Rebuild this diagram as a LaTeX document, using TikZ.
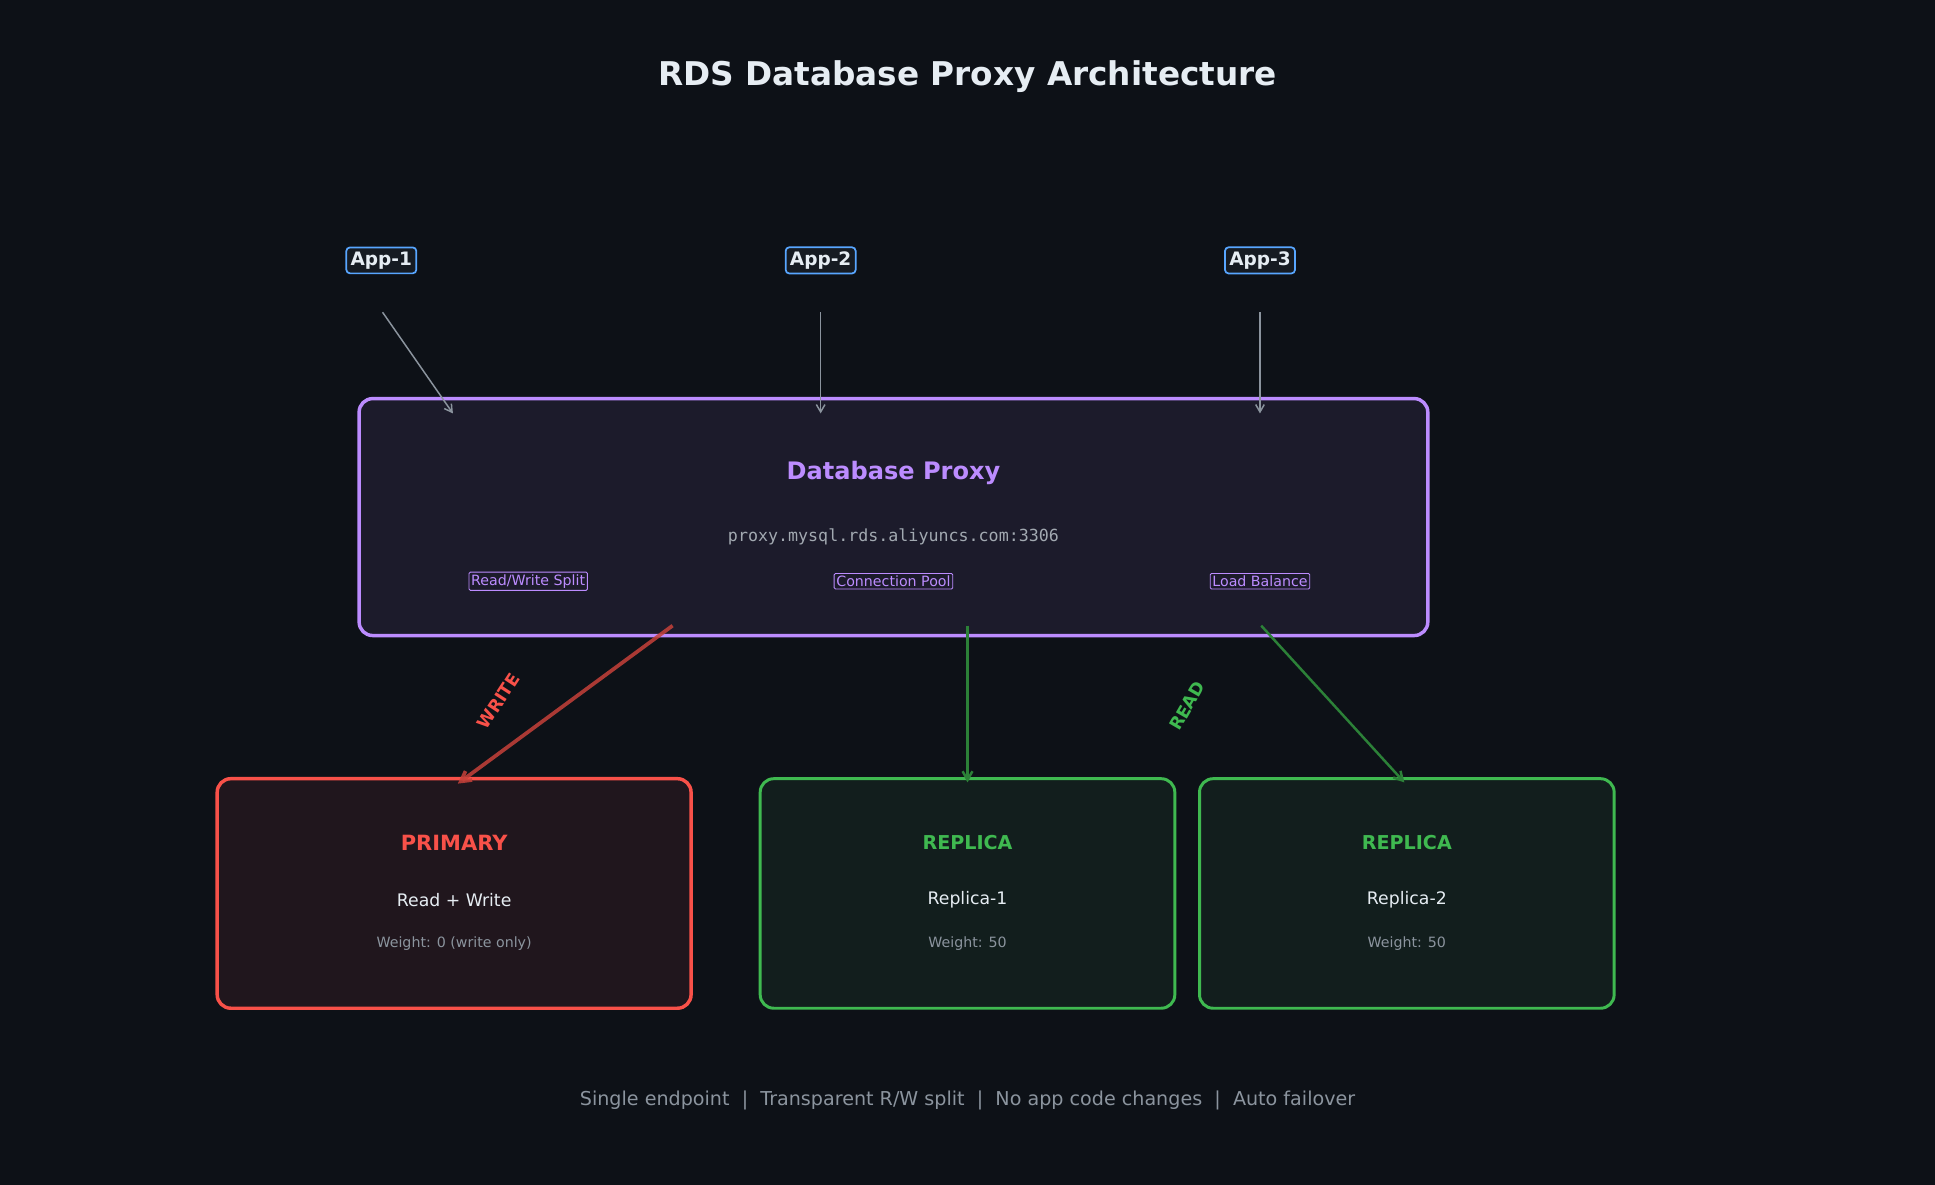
\documentclass[tikz,border=0pt]{standalone}
\usepackage{fontspec}
\setmainfont{DejaVu Sans}
\setmonofont{DejaVu Sans Mono}
\usetikzlibrary{arrows.meta}
\definecolor{bg}{HTML}{0D1117}
\definecolor{purp}{HTML}{BC8CFF}
\definecolor{pfill}{HTML}{1C1B2B}
\definecolor{red}{HTML}{F85149}
\definecolor{rfill}{HTML}{20161D}
\definecolor{grn}{HTML}{3FB950}
\definecolor{gfill}{HTML}{121E1D}
\definecolor{blu}{HTML}{58A6FF}
\definecolor{bfill}{HTML}{161B22}
\definecolor{gry}{HTML}{8B949E}
\definecolor{txt}{HTML}{E6EDF3}
\begin{document}
\begin{tikzpicture}[x=1pt,y=-1pt,
  app/.style={draw=blu,fill=bfill,rounded corners=3pt,line width=1.4pt,text=txt,font=\bfseries\fontsize{15}{18}\selectfont,inner sep=3.5pt},
  tag/.style={draw=purp,fill=pfill,line width=0.7pt,text=purp,font=\fontsize{11.5}{13}\selectfont,inner sep=1.8pt,rounded corners=1pt},
  box/.style={rounded corners=11pt,line width=2.8pt},
  garrow/.style={draw=gry,line width=1.2pt,-{Straight Barb[length=6pt,width=7pt]}},
  t/.style={text=txt,font=\fontsize{14}{17}\selectfont},
  s/.style={text=gry,font=\fontsize{11.5}{14}\selectfont}]
\fill[bg] (0,0) rectangle (1568,960);
\useasboundingbox (0,0) rectangle (1568,960);
\node[text=txt,font=\bfseries\fontsize{26.5}{30}\selectfont] (title) at (784,62) {RDS Database Proxy Architecture};
\node[app] (a1) at (309,211) {App-1};
\node[app] (a2) at (665,211) {App-2};
\node[app] (a3) at (1021,211) {App-3};
\draw[box,draw=purp,fill=pfill] (291,323) rectangle (1157,515);
\node[text=purp,font=\bfseries\fontsize{19.5}{23}\selectfont] (pt) at (724,383) {Database Proxy};
\node[text=gry!80!white,font=\ttfamily\fontsize{13.5}{16}\selectfont] (url) at (724,435) {proxy.mysql.rds.aliyuncs.com:3306};
\node[tag] (t1) at (428,471) {Read/Write Split};
\node[tag] (t2) at (724,471) {Connection Pool};
\node[tag] (t3) at (1021,471) {Load Balance};
\draw[box,draw=red,fill=rfill] (176,631) rectangle (560,817);
\draw[box,draw=grn,fill=gfill,line width=2.4pt] (616,631) rectangle (952,817);
\draw[box,draw=grn,fill=gfill,line width=2.4pt] (972,631) rectangle (1308,817);
\node[text=red,font=\bfseries\fontsize{17}{20}\selectfont] (p1) at (368,683) {PRIMARY};
\node[t] (p2) at (368,729) {Read + Write};
\node[s] (p3) at (368,765) {Weight: 0 (write only)};
\node[text=grn,font=\bfseries\fontsize{15.5}{18}\selectfont] (r1) at (784,683) {REPLICA};
\node[t] (r2) at (784,729) {Replica-1};
\node[s] (r3) at (784,765) {Weight: 50};
\node[text=grn,font=\bfseries\fontsize{15.5}{18}\selectfont] (q1) at (1140,683) {REPLICA};
\node[t] (q2) at (1140,729) {Replica-2};
\node[s] (q3) at (1140,765) {Weight: 50};
\coordinate (a1s) at (310,253); \coordinate (a2s) at (665,253); \coordinate (a3s) at (1021,253);
\coordinate (a1e) at (367,335); \coordinate (a2e) at (665,335); \coordinate (a3e) at (1021,335);
\draw[garrow] (a1s) -- (a1e);
\draw[garrow] (a2s) -- (a2e);
\draw[garrow] (a3s) -- (a3e);
\coordinate (w0) at (545,507); \coordinate (w1) at (371,635);
\coordinate (g0) at (784,507); \coordinate (g1) at (784,634);
\coordinate (h0) at (1022,507); \coordinate (h1) at (1138,634);
\draw[draw=red!80!black,draw opacity=0.85,line width=3pt,-{Straight Barb[length=8pt,width=9pt]}] (w0) -- (w1);
\draw[draw=grn!70!black,line width=2pt,-{Straight Barb[length=7pt,width=8pt]}] (g0) -- (g1);
\draw[draw=grn!70!black,line width=2pt,-{Straight Barb[length=7pt,width=8pt]}] (h0) -- (h1);
\node[text=red,font=\bfseries\fontsize{14}{16}\selectfont,rotate=57] (wl) at (404,568) {WRITE};
\node[text=grn,font=\bfseries\fontsize{14}{16}\selectfont,rotate=60] (rl) at (962,572) {READ};
\node[text=gry,font=\fontsize{15.5}{18}\selectfont] (foot) at (784,892) {Single endpoint \ \textbar\ \ Transparent R/W split \ \textbar\ \ No app code changes \ \textbar\ \ Auto failover};
\end{tikzpicture}
\end{document}
